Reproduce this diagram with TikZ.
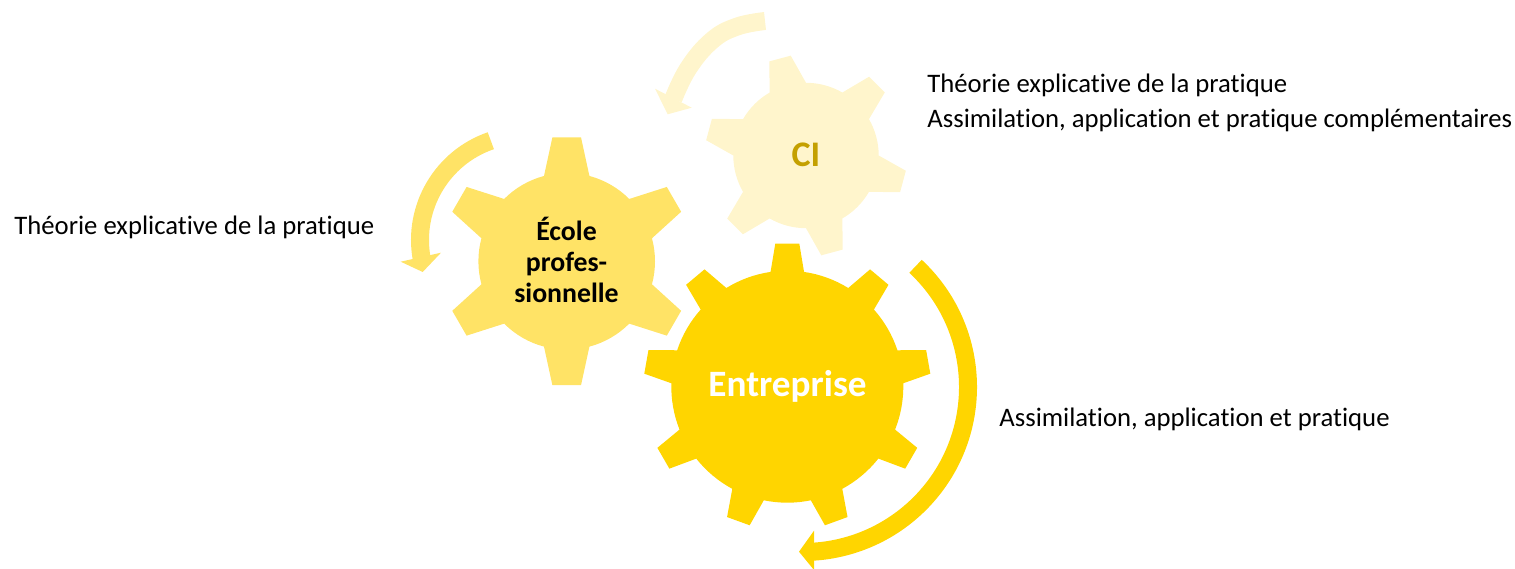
\documentclass[tikz,border=0pt]{standalone}
\usepackage{fontspec}
\setmainfont[Ligatures=NoCommon]{Carlito}
\definecolor{entgold}{HTML}{FFD500}
\definecolor{ecolegold}{HTML}{FFE366}
\definecolor{cicream}{HTML}{FFF5CC}
\definecolor{citext}{HTML}{C4A000}
% #1 colour, #2 centre, #3 body radius, #4 tip radius, #5 half angle base, #6 half angle tip, #7 number of teeth, #8 first tooth
\newcommand{\gearshape}[8]{
\begin{scope}[shift={#2}]
\pgfmathsetmacro{\gearstep}{360/#7}
\pgfmathsetmacro{\gearlast}{int(#7-1)}
\fill [#1] (#8-#5:#3) \foreach \k [evaluate=\k as \t using #8+\k*\gearstep] in {0,...,\gearlast} {
 -- (\t-#6:#4) -- (\t+#6:#4) -- (\t+#5:#3) arc [start angle=\t+#5,end angle=\t+\gearstep-#5,radius=#3]
} -- cycle;
\end{scope}
}
\tikzset{
 ringarrow/.style={line width=9pt},
 sidetext/.style={anchor=base west,inner sep=0pt,font=\fontsize{13.35}{17.5}\selectfont,align=left},
 geartext/.style={inner sep=0pt,align=center}
}
\begin{document}
\begin{tikzpicture}[x=0.5pt,y=0.5pt]
\useasboundingbox (0,0) rectangle (1515,568);
% gears
\gearshape{cicream}{(806,412.5)}{72.7}{101}{15}{6.3}{6}{105}
\gearshape{ecolegold}{(566.7,306.7)}{88.3}{124.7}{14.9}{6.6}{6}{90}
\gearshape{entgold}{(787.3,181.3)}{116}{143.6}{8.3}{4.8}{9}{90}
% turning arrows
\draw [ringarrow,cicream] plot [smooth,tension=0.7] coordinates {(765,547) (736.7,541.3) (711.7,527.3) (688.3,499.7) (673.3,469)};
\fill [cicream] (655,479.3) -- (667.7,453.7) -- (691.7,460.3) -- cycle;
\draw [ringarrow,ecolegold] ([shift={(525,328)}]109:105) arc [start angle=109,end angle=190,radius=105];
\fill [ecolegold] (400.7,306.3) -- (422.7,296) -- (441,315.3) -- cycle;
\draw [ringarrow,entgold] ([shift={(803,181)}]47:165) arc [start angle=47,end angle=-87,radius=165];
\fill [entgold] (814,37.3) -- (799,16.3) -- (814,-2) -- cycle;
% gear names
\node [geartext,font=\fontsize{18}{20}\selectfont\bfseries,text=citext] (ci) at (806,413) {CI};
\node [geartext,font=\fontsize{13.9}{15.4}\selectfont\bfseries] (ecole) at (566.5,308) {École\\profes-\\sionnelle};
\node [geartext,font=\fontsize{18.6}{20}\selectfont\bfseries,text=white] (entreprise) at (787.5,182) {Entreprise};
% side texts
\node [sidetext] (txtecole) at (14,333) {Théorie explicative de la pratique};
\node [sidetext] (txtci) at (927,440) {Théorie explicative de la pratique\\Assimilation, application et pratique complémentaires};
\node [sidetext] (txtent) at (999,141) {Assimilation, application et pratique};
\end{tikzpicture}
\end{document}
